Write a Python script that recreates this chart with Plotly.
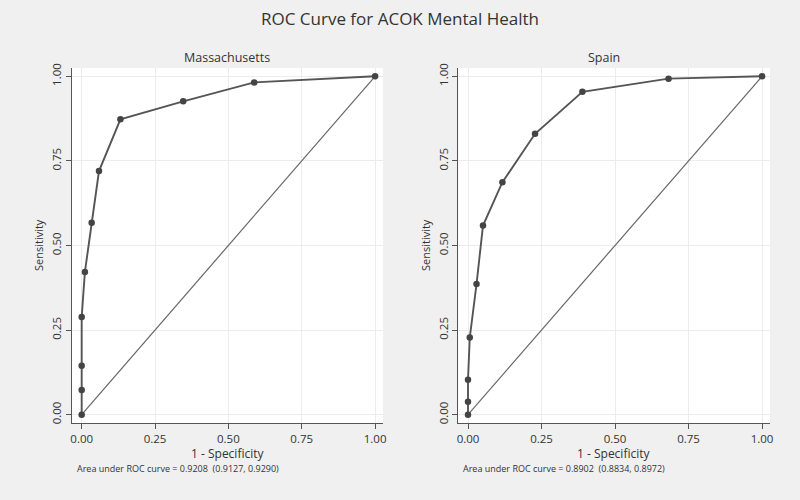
import plotly.graph_objects as go

# Data
ticks = [0, 0.25, 0.5, 0.75, 1.0]
tick_labels = ["0.00", "0.25", "0.50", "0.75", "1.00"]

ma_fpr = [0, 0, 0, 0, 0.011, 0.034, 0.059, 0.132, 0.346, 0.588, 1.0]
ma_tpr = [0, 0.073, 0.145, 0.289, 0.422, 0.567, 0.720, 0.873, 0.926, 0.982, 1.0]
es_fpr = [0, 0, 0, 0.006, 0.029, 0.051, 0.117, 0.228, 0.389, 0.682, 1.0]
es_tpr = [0, 0.038, 0.103, 0.228, 0.386, 0.559, 0.687, 0.830, 0.954, 0.993, 1.0]
ref_line = [0, 1]

panels = ["Massachusetts", "Spain"]
auc_text = ["Area under ROC curve = 0.9208  (0.9127, 0.9290)",
            "Area under ROC curve = 0.8902  (0.8834, 0.8972)"]

FONT = "Open Sans"
LINE = "#555555"
MARK = "#444444"

fig = go.Figure()
for i, (fx, ty) in enumerate([(ma_fpr, ma_tpr), (es_fpr, es_tpr)]):
    xa = "x" if i == 0 else "x2"
    ya = "y" if i == 0 else "y2"
    fig.add_trace(go.Scatter(x=ref_line, y=ref_line, mode="lines",
                             line=dict(color="#666666", width=1.2),
                             xaxis=xa, yaxis=ya, showlegend=False, hoverinfo="skip"))
    fig.add_trace(go.Scatter(x=fx, y=ty, mode="lines+markers",
                             line=dict(color=LINE, width=1.9),
                             marker=dict(color=MARK, size=6.5),
                             xaxis=xa, yaxis=ya, showlegend=False))

doms_x = [[72 / 800, 383 / 800], [458.3 / 800, 770 / 800]]
dom_y = [1 - 423 / 500, 1 - 68 / 500]

axis_common = dict(
    tickvals=ticks, ticktext=tick_labels,
    showline=True, linecolor="#555555", linewidth=1.3,
    ticks="outside", ticklen=5, tickcolor="#555555", tickwidth=1,
    showgrid=True, gridcolor="#ececec", gridwidth=1,
    zeroline=False, automargin=False,
    tickfont=dict(family=FONT, size=11.5, color="#333333"),
    fixedrange=True,
)

layout = dict(
    width=800, height=500,
    margin=dict(l=0, r=0, t=0, b=0, autoexpand=False),
    paper_bgcolor="#f0f0f0", plot_bgcolor="#ffffff",
    font=dict(family=FONT, color="#333333"),
    showlegend=False,
)
for i in range(2):
    sx = "" if i == 0 else "2"
    layout["xaxis" + sx] = dict(axis_common, domain=doms_x[i], range=[-0.033, 1.027],
                                anchor="y" + sx)
    layout["yaxis" + sx] = dict(axis_common, domain=dom_y, range=[-0.0245, 1.0245],
                                anchor="x" + sx, tickangle=-90)
fig.update_layout(**layout)

def A(text, x, y, size, xanchor="center", angle=0):
    return dict(text=text, x=x / 800, y=1 - y / 500, xref="paper", yref="paper",
                xanchor=xanchor, yanchor="middle", showarrow=False, textangle=angle,
                font=dict(family=FONT, size=size, color="#333333"))

ann = [A("ROC Curve for ACOK Mental Health", 400, 18, 17)]
panel_cx = [227, 604]
xt_cx = [228, 614]
ylab_x = [38, 425]
auc_x = [75, 461]
for i in range(2):
    ann.append(A(panels[i], panel_cx[i], 58, 12.5))
    ann.append(A("1 - Specificity", xt_cx[i], 453, 12))
    ann.append(A("Sensitivity", ylab_x[i], 245, 11, angle=-90))
    ann.append(A(auc_text[i], auc_x[i], 468, 9, xanchor="left"))
fig.update_layout(annotations=ann)

fig.write_html("out.html", config={"displayModeBar": False},
               post_script="document.body.style.margin='0';")
